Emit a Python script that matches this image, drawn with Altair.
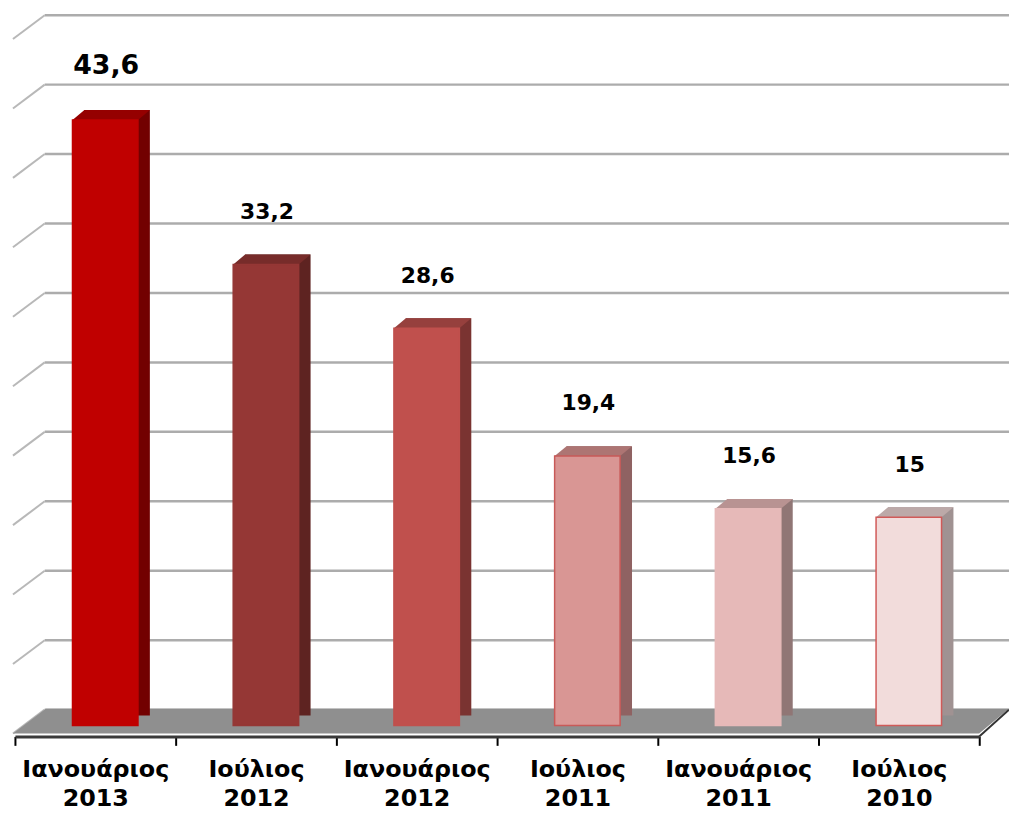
import altair as alt
import pandas as pd

# ---- data ----
categories = ["Ιανουάριος 2013", "Ιούλιος 2012", "Ιανουάριος 2012",
              "Ιούλιος 2011", "Ιανουάριος 2011", "Ιούλιος 2010"]
values = [43.6, 33.2, 28.6, 19.4, 15.6, 15.0]
value_labels = ["43,6", "33,2", "28,6", "19,4", "15,6", "15"]
grid_values = [0, 5, 10, 15, 20, 25, 30, 35, 40, 45, 50]

# ---- styles ----
front_colors = ["#C00000", "#953735", "#C0504D", "#D99694", "#E6B9B8", "#F2DCDB"]
side_colors = ["#720000", "#5E2321", "#7A3331", "#8F6262", "#907675", "#A09292"]
top_colors = ["#950000", "#772C2A", "#96403D", "#AD7573", "#B89392", "#BCA9A8"]
stroke_colors = ["#C00000", "#953735", "#C0504D", "#C85A58", "#E6B9B8", "#D05A58"]

W, H = 972, 700
FONT = "DejaVu Sans"

df = pd.DataFrame({"cat": categories, "val": values, "lab": value_labels})
grid_df = pd.DataFrame({"g": grid_values})

x_enc = alt.X("cat:N", sort=categories,
              scale=alt.Scale(domain=categories, paddingInner=0, paddingOuter=0),
              axis=alt.Axis(title=None, labelAngle=0, labelFont=FONT, labelFontSize=24,
                            labelFontWeight="bold", labelColor="#000000",
                            labelExpr="split(datum.label, ' ')", labelLineHeight=30,
                            labelBaseline="top", labelPadding=12,
                            tickBand="extent", tickSize=9, tickWidth=2, tickColor="#000000",
                            domainColor="#3a3a3a", domainWidth=3, offset=11, grid=False))
y_scale = alt.Scale(domain=[0, 50], nice=False, zero=True)
y_enc = alt.Y("val:Q", scale=y_scale, axis=None)

grid = alt.Chart(grid_df).mark_rule(color="#acacac", strokeWidth=2.5, yOffset=-16).encode(
    y=alt.Y("g:Q", scale=y_scale, axis=None),
    x=alt.value(30), x2=alt.value(W + 30))

side = alt.Chart(grid_df).mark_rule(color="#b8b8b8", strokeWidth=2, yOffset=-16, y2Offset=8).encode(
    y=alt.Y("g:Q", scale=y_scale, axis=None), y2=alt.Y2("g:Q"),
    x=alt.value(30), x2=alt.value(-2))

floor_path = "M -1 0.0249 L 0.94 0.0249 L 1 -0.0249 L -0.934 -0.0249 Z"
floor = alt.Chart(alt.Data(values=[{}])).mark_point(
    shape=floor_path, filled=True, opacity=1, color="#8f8f8f", size=1008016, strokeWidth=0
).encode(x=alt.value(500), y=alt.value(695.5))

edge = alt.Chart(alt.Data(values=[{}])).mark_rule(color="#333333", strokeWidth=2).encode(
    x=alt.value(W), x2=alt.value(W + 30), y=alt.value(711), y2=alt.value(684))

back = alt.Chart(df).mark_bar(width=66, xOffset=22, yOffset=-10, y2Offset=-10).encode(
    x=x_enc, y=y_enc,
    color=alt.Color("cat:N", scale=alt.Scale(domain=categories, range=side_colors), legend=None))

top_path = "M -0.66 0 L 0.66 0 L 0.9 -0.2 L -0.42 -0.2 Z"
top = alt.Chart(df).mark_point(shape=top_path, filled=True, opacity=1, size=10000,
                               strokeWidth=0, xOffset=10).encode(
    x=x_enc, y=y_enc,
    color=alt.Color("cat:N", scale=alt.Scale(domain=categories, range=top_colors), legend=None))

front = alt.Chart(df).mark_bar(width=66, xOffset=10, strokeWidth=1.5).encode(
    x=x_enc, y=y_enc,
    color=alt.Color("cat:N", scale=alt.Scale(domain=categories, range=front_colors), legend=None),
    stroke=alt.Stroke("cat:N", scale=alt.Scale(domain=categories, range=stroke_colors), legend=None))

labels = alt.Chart(df).mark_text(font=FONT, fontWeight="bold", color="#000000",
                                 dy=-46, xOffset=11, baseline="alphabetic").encode(
    x=x_enc, y=y_enc, text="lab:N",
    size=alt.condition(alt.datum.val > 40, alt.value(27), alt.value(22)))

chart = alt.layer(grid, side, floor, edge, back, top, front, labels).resolve_scale(
    color="independent"
).properties(
    width=W, height=H,
    autosize=alt.AutoSizeParams(type="none"),
    padding={"left": 7, "top": 20, "right": 30, "bottom": 90},
).configure_view(stroke=None)

chart.save("out.html", embed_options={"renderer": "svg", "actions": False})
